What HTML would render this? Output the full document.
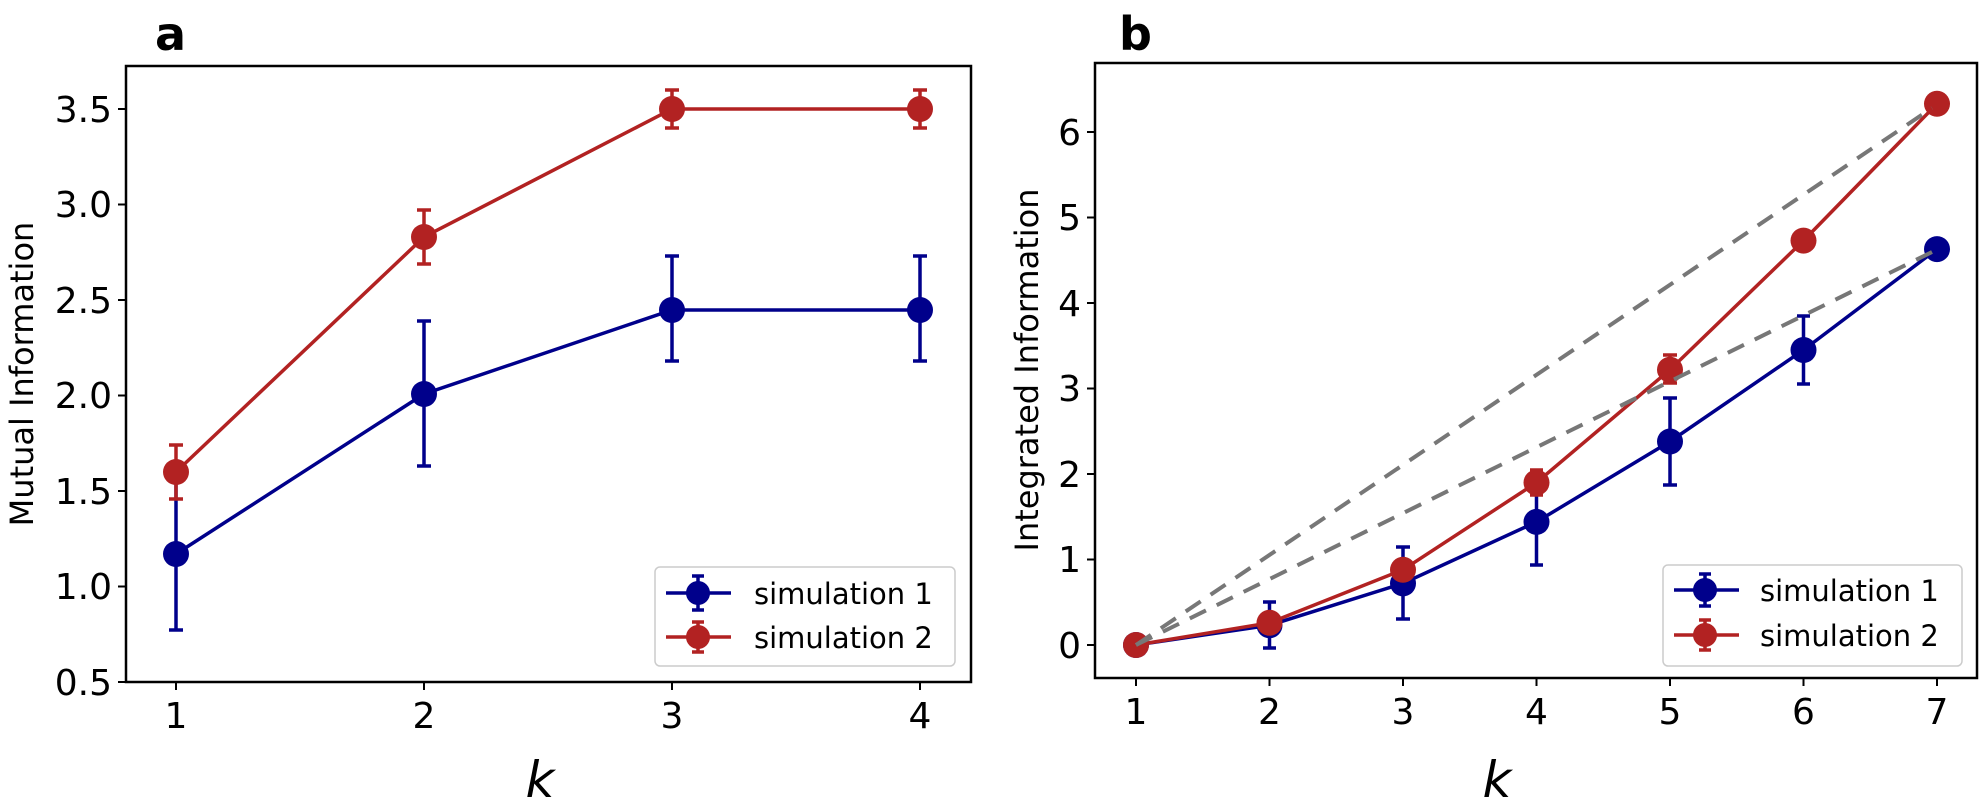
<!DOCTYPE html>
<html><head><meta charset="utf-8"><style>body{margin:0;background:#fff}svg{display:block}text{font-family:"DejaVu Sans","Liberation Sans",sans-serif;fill:#000}</style></head>
<body>
<svg width="1982" height="804" viewBox="0 0 1982 804" xmlns="http://www.w3.org/2000/svg">
<g id="A">
<text x="155" y="50" font-size="46" font-weight="bold">a</text>
<rect x="126" y="66" width="845" height="616" fill="none" stroke="#000" stroke-width="2.5"/>
<g font-size="36" text-anchor="end">
<g stroke="#000" stroke-width="2"><line x1="118" y1="682" x2="126" y2="682"/><line x1="118" y1="586.5" x2="126" y2="586.5"/><line x1="118" y1="491" x2="126" y2="491"/><line x1="118" y1="395.5" x2="126" y2="395.5"/><line x1="118" y1="300" x2="126" y2="300"/><line x1="118" y1="204.5" x2="126" y2="204.5"/><line x1="118" y1="109" x2="126" y2="109"/></g>
<text x="112" y="695">0.5</text><text x="112" y="599">1.0</text><text x="112" y="504">1.5</text><text x="112" y="408">2.0</text><text x="112" y="313">2.5</text><text x="112" y="217">3.0</text><text x="112" y="122">3.5</text>
</g>
<g font-size="36" text-anchor="middle" stroke-width="2">
<g stroke="#000"><line x1="176" y1="682" x2="176" y2="690"/><line x1="424" y1="682" x2="424" y2="690"/><line x1="672" y1="682" x2="672" y2="690"/><line x1="920" y1="682" x2="920" y2="690"/></g>
<text x="176" y="728">1</text><text x="424" y="728">2</text><text x="672" y="728">3</text><text x="920" y="728">4</text>
</g>
<text x="540" y="797" font-size="50" font-style="italic" font-family="'DejaVu Serif','Liberation Serif',serif" text-anchor="middle">k</text>
<text transform="translate(33,374) rotate(-90)" font-size="32" text-anchor="middle">Mutual Information</text>
<g stroke="#00008b" stroke-width="3.5" fill="#00008b">
<polyline fill="none" points="176,554 424,394 672,310 920,310"/>
<path fill="none" d="M176,478V630M169,630h14M424,321V466M417,321h14M417,466h14M672,256V361M665,256h14M665,361h14M920,256V361M913,256h14M913,361h14"/>
<circle cx="176" cy="554" r="13" stroke="none"/><circle cx="424" cy="394" r="13" stroke="none"/><circle cx="672" cy="310" r="13" stroke="none"/><circle cx="920" cy="310" r="13" stroke="none"/>
</g>
<g stroke="#b22222" stroke-width="3.5" fill="#b22222">
<polyline fill="none" points="176,472 424,237 672,109 920,109"/>
<path fill="none" d="M176,445V499M169,445h14M169,499h14M424,210V264M417,210h14M417,264h14M672,90V128M665,90h14M665,128h14M920,90V128M913,90h14M913,128h14"/>
<circle cx="176" cy="472" r="13" stroke="none"/><circle cx="424" cy="237" r="13" stroke="none"/><circle cx="672" cy="109" r="13" stroke="none"/><circle cx="920" cy="109" r="13" stroke="none"/>
</g>
<rect x="655" y="567" width="300" height="99" rx="5" fill="#fff" stroke="#ccc" stroke-width="1.5"/>
<g stroke-width="3.5"><line x1="666" y1="593" x2="731" y2="593" stroke="#00008b"/><path d="M698,576V610M692,576h12M692,610h12" stroke="#00008b" fill="none"/><circle cx="698" cy="593" r="12" fill="#00008b"/>
<line x1="666" y1="637" x2="731" y2="637" stroke="#b22222"/><path d="M698,622V652M692,622h12M692,652h12" stroke="#b22222" fill="none"/><circle cx="698" cy="637" r="12" fill="#b22222"/></g>
<text x="754" y="604" font-size="29">simulation 1</text><text x="754" y="648" font-size="29">simulation 2</text>
</g>
<g id="B">
<text x="1119" y="50" font-size="46" font-weight="bold">b</text>
<rect x="1095" y="63" width="882" height="615" fill="none" stroke="#000" stroke-width="2.5"/>
<g font-size="36" text-anchor="end">
<g stroke="#000" stroke-width="2"><line x1="1087" y1="645" x2="1095" y2="645"/><line x1="1087" y1="559.5" x2="1095" y2="559.5"/><line x1="1087" y1="474" x2="1095" y2="474"/><line x1="1087" y1="388.5" x2="1095" y2="388.5"/><line x1="1087" y1="303" x2="1095" y2="303"/><line x1="1087" y1="217.5" x2="1095" y2="217.5"/><line x1="1087" y1="132" x2="1095" y2="132"/></g>
<text x="1081" y="658">0</text><text x="1081" y="572">1</text><text x="1081" y="487">2</text><text x="1081" y="401">3</text><text x="1081" y="316">4</text><text x="1081" y="230">5</text><text x="1081" y="145">6</text>
</g>
<g font-size="36" text-anchor="middle">
<g stroke="#000" stroke-width="2"><line x1="1136" y1="678" x2="1136" y2="686"/><line x1="1269.5" y1="678" x2="1269.5" y2="686"/><line x1="1403" y1="678" x2="1403" y2="686"/><line x1="1536.5" y1="678" x2="1536.5" y2="686"/><line x1="1670" y1="678" x2="1670" y2="686"/><line x1="1803.5" y1="678" x2="1803.5" y2="686"/><line x1="1937" y1="678" x2="1937" y2="686"/></g>
<text x="1136" y="724">1</text><text x="1269.5" y="724">2</text><text x="1403" y="724">3</text><text x="1536.5" y="724">4</text><text x="1670" y="724">5</text><text x="1803.5" y="724">6</text><text x="1937" y="724">7</text>
</g>
<text x="1497" y="797" font-size="50" font-style="italic" font-family="'DejaVu Serif','Liberation Serif',serif" text-anchor="middle">k</text>
<text transform="translate(1038,370) rotate(-90)" font-size="32" text-anchor="middle">Integrated Information</text>
<g stroke="#00008b" stroke-width="3.5" fill="#00008b">
<polyline fill="none" points="1136,645 1269.5,625.3 1403,583.4 1536.5,521.9 1670,441.5 1803.5,350 1937,249.1"/>
<path fill="none" d="M1269.5,602V648M1263,602h13M1263,648h13M1403,547V619M1396,547h14M1396,619h14M1536.5,495V565M1530,565h13M1670,398V485M1663,398h14M1663,485h14M1803.5,316V384M1797,316h13M1797,384h13"/>
<g stroke="none"><circle cx="1136" cy="645" r="13"/><circle cx="1269.5" cy="625.3" r="13"/><circle cx="1403" cy="583.4" r="13"/><circle cx="1536.5" cy="521.9" r="13"/><circle cx="1670" cy="441.5" r="13"/><circle cx="1803.5" cy="350" r="13"/><circle cx="1937" cy="249.1" r="13"/></g>
</g>
<g stroke="#b22222" stroke-width="3.5" fill="#b22222">
<polyline fill="none" points="1136,645 1269.5,622.8 1403,569.8 1536.5,482.6 1670,369.7 1803.5,240.6 1937,103.8"/>
<path fill="none" d="M1536.5,470V495M1530,470h13M1530,495h13M1670,355V383M1663,355h14M1663,383h14M1803.5,232V249M1797,232h13M1797,249h13"/>
<g stroke="none"><circle cx="1136" cy="645" r="13"/><circle cx="1269.5" cy="622.8" r="13"/><circle cx="1403" cy="569.8" r="13"/><circle cx="1536.5" cy="482.6" r="13"/><circle cx="1670" cy="369.7" r="13"/><circle cx="1803.5" cy="240.6" r="13"/><circle cx="1937" cy="103.8" r="13"/></g>
</g>
<g stroke="#777" stroke-width="4" stroke-dasharray="18,12" fill="none">
<line x1="1136" y1="645" x2="1932" y2="108"/><line x1="1136" y1="645" x2="1932" y2="252"/>
</g>
<rect x="1663" y="565" width="299" height="101" rx="5" fill="#fff" stroke="#ccc" stroke-width="1.5"/>
<g stroke-width="3.5"><line x1="1674" y1="590" x2="1739" y2="590" stroke="#00008b"/><path d="M1705,574V606M1699,574h12M1699,606h12" stroke="#00008b" fill="none"/><circle cx="1705" cy="590" r="12" fill="#00008b"/>
<line x1="1674" y1="635" x2="1739" y2="635" stroke="#b22222"/><path d="M1705,620V650M1699,620h12M1699,650h12" stroke="#b22222" fill="none"/><circle cx="1705" cy="635" r="12" fill="#b22222"/></g>
<text x="1760" y="601" font-size="29">simulation 1</text><text x="1760" y="646" font-size="29">simulation 2</text>
</g>
</svg>
</body></html>
